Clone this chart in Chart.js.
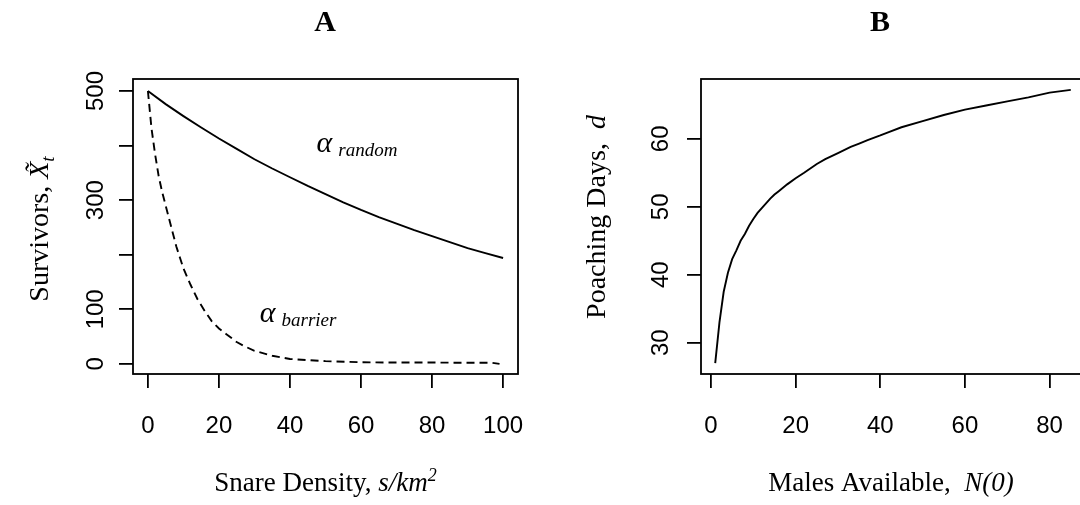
<!DOCTYPE html>
<html>
<head>
<meta charset="utf-8">
<script src="https://cdn.jsdelivr.net/npm/chart.js@4.4.1/dist/chart.umd.min.js"></script>
<style>
  html, body { margin: 0; padding: 0; background: #fff; overflow: hidden; width: 1080px; height: 505px; }
  .wrap { position: absolute; top: 0; }
</style>
</head>
<body>
<div class="wrap" style="left:0"><canvas id="chartA" width="540" height="505"></canvas></div>
<div class="wrap" style="left:540px"><canvas id="chartB" width="560" height="505"></canvas></div>
<script>
// Panel A - survivors vs snare density
const snareDensity = [0, 5, 10, 15, 20, 25, 30, 35, 40, 45, 50, 55, 60, 65, 70, 75, 80, 85, 90, 95, 100];
const survivorsRandom = [500, 476, 454, 433, 413, 394, 375, 358, 342, 326, 311, 296, 282, 269, 257, 245, 234, 223, 212, 203, 194];
const barrierDensity = [0, 1, 2, 3, 4, 5, 6, 7, 8, 9, 10, 12, 14, 16, 18, 20, 22, 25, 27, 30, 35, 40, 45, 50, 60, 70, 80, 90, 97, 99];
const survivorsBarrier = [500, 432, 385, 345, 315, 290, 265, 240, 215, 195, 175, 145, 118, 97, 78, 65, 55, 40, 33, 24, 15, 9, 7, 5, 3, 2.5, 2.5, 2, 2, 0];
const xTicksA = [0, 20, 40, 60, 80, 100];
const yTicksA = [0, 100, 200, 300, 400, 500];
const yLabelsA = { 0: '0', 100: '100', 200: '', 300: '300', 400: '', 500: '500' };

// Panel B - poaching days vs males available
const malesAvailable = [1, 2, 3, 4, 5, 6, 7, 8, 9, 10, 11, 12, 14, 15, 16, 18, 20, 22, 25, 27, 30, 33, 35, 37, 40, 42, 45, 50, 55, 60, 65, 70, 75, 80, 85];
const poachingDays = [27, 33, 37.5, 40.3, 42.3, 43.6, 45, 46, 47.2, 48.2, 49.1, 49.8, 51.2, 51.8, 52.3, 53.3, 54.2, 55, 56.3, 57, 57.9, 58.8, 59.3, 59.8, 60.5, 61, 61.7, 62.6, 63.5, 64.3, 64.9, 65.5, 66.1, 66.8, 67.2];
const xTicksB = [0, 20, 40, 60, 80];
const yTicksB = [30, 40, 50, 60];

const SANS = '"Liberation Sans", Arial, Helvetica, sans-serif';
const SERIF = '"Liberation Serif", "Times New Roman", serif';

const pts = (xs, ys) => xs.map((x, i) => ({ x: x, y: ys[i] }));

// draw a row of text pieces with different fonts
function drawRuns(ctx, runs, x, y) {
  let total = 0;
  runs.forEach(r => { ctx.font = r.font; r.w = ctx.measureText(r.text).width; total += r.w + (r.gap || 0); });
  let cx = x - total / 2;
  runs.forEach(r => {
    ctx.font = r.font;
    ctx.fillText(r.text, cx, y + (r.dy || 0));
    cx += r.w + (r.gap || 0);
  });
}

const decorPlugin = {
  id: 'decor',
  afterDraw(chart, args, opts) {
    const ctx = chart.ctx;
    const a = chart.chartArea;
    ctx.save();
    ctx.strokeStyle = '#000';
    ctx.lineWidth = 1.8;
    ctx.strokeRect(a.left, a.top, a.right - a.left, a.bottom - a.top);
    ctx.fillStyle = '#000';
    ctx.textBaseline = 'alphabetic';
    ctx.textAlign = 'left';

    // panel letter
    drawRuns(ctx, [{ text: opts.letter, font: 'bold 30px ' + SERIF }], opts.letterX, 31);

    // x axis title
    drawRuns(ctx, opts.xTitle, opts.xTitleX, 491);

    // y axis title, rotated
    ctx.save();
    ctx.translate(opts.yTitleX, opts.yTitleY);
    ctx.rotate(-Math.PI / 2);
    drawRuns(ctx, opts.yTitle, 0, 0);
    ctx.restore();

    // curve labels in data units
    (opts.notes || []).forEach(n => {
      const px = chart.scales.x.getPixelForValue(n.x);
      const py = chart.scales.y.getPixelForValue(n.y);
      ctx.font = 'italic 30px ' + SERIF;
      ctx.fillText('\u03b1', px, py);
      const w = ctx.measureText('\u03b1').width;
      ctx.font = 'italic 19px ' + SERIF;
      ctx.fillText(n.sub, px + w + 6, py + 4);
    });
    ctx.restore();
  }
};

function axisOpts(ticks, labels, min, max, fit, pad, vertical) {
  const o = {
    type: 'linear',
    min: min,
    max: max,
    afterBuildTicks: s => { s.ticks = ticks.map(v => ({ value: v })); },
    grid: { drawOnChartArea: false, drawTicks: true, tickLength: 14, color: '#000', lineWidth: 1.8 },
    border: { display: false },
    ticks: {
      font: { family: SANS, size: 24 },
      color: '#000',
      padding: pad,
      autoSkip: false,
      callback: v => (labels ? labels[v] : String(v))
    }
  };
  if (vertical) {
    o.afterFit = s => { s.width = fit; s.paddingTop = 0; s.paddingBottom = 0; };
    o.ticks.minRotation = 90;
    o.ticks.maxRotation = 90;
    o.ticks.crossAlign = 'center';
  } else {
    o.afterFit = s => { s.height = fit; s.paddingLeft = 0; s.paddingRight = 0; };
    o.ticks.maxRotation = 0;
    o.ticks.minRotation = 0;
  }
  return o;
}

const lineStyle = { borderColor: '#000', borderWidth: 1.9, pointRadius: 0, tension: 0, fill: false };

new Chart(document.getElementById('chartA'), {
  type: 'line',
  data: {
    datasets: [
      Object.assign({ label: 'random', data: pts(snareDensity, survivorsRandom) }, lineStyle),
      Object.assign({ label: 'barrier', data: pts(barrierDensity, survivorsBarrier), borderDash: [8, 5] }, lineStyle)
    ]
  },
  options: {
    responsive: false,
    animation: false,
    layout: { padding: { top: 79, right: 22, left: 0, bottom: 0 } },
    plugins: {
      legend: { display: false },
      tooltip: { enabled: false },
      decor: {
        letter: 'A', letterX: 325,
        xTitleX: 325.5,
        xTitle: [
          { text: 'Snare Density, ', font: '27px ' + SERIF },
          { text: 's/km', font: 'italic 27px ' + SERIF },
          { text: '2', font: 'italic 18px ' + SERIF, dy: -10 }
        ],
        yTitleX: 48, yTitleY: 229,
        yTitle: [
          { text: 'Survivors, ', font: '28px ' + SERIF },
          { text: 'X\u0303', font: 'italic 28px ' + SERIF },
          { text: 't', font: 'italic 19px ' + SERIF, dy: 6 }
        ],
        notes: [
          { x: 47.5, y: 389, sub: 'random' },
          { x: 31.5, y: 77, sub: 'barrier' }
        ]
      }
    },
    scales: {
      x: axisOpts(xTicksA, null, -4.2, 104.2, 131, 24, false),
      y: axisOpts(yTicksA, yLabelsA, -18.5, 522, 133, 3, true)
    }
  },
  plugins: [decorPlugin]
});

new Chart(document.getElementById('chartB'), {
  type: 'line',
  data: {
    datasets: [
      Object.assign({ label: 'days', data: pts(malesAvailable, poachingDays) }, lineStyle)
    ]
  },
  options: {
    responsive: false,
    animation: false,
    layout: { padding: { top: 79, right: 15, left: 0, bottom: 0 } },
    plugins: {
      legend: { display: false },
      tooltip: { enabled: false },
      decor: {
        letter: 'B', letterX: 340,
        xTitleX: 351,
        xTitle: [
          { text: 'Males Available,  ', font: '27px ' + SERIF },
          { text: 'N(0)', font: 'italic 27px ' + SERIF }
        ],
        yTitleX: 65, yTitleY: 217,
        yTitle: [
          { text: 'Poaching Days,  ', font: '28px ' + SERIF },
          { text: 'd', font: 'italic 28px ' + SERIF }
        ]
      }
    },
    scales: {
      x: axisOpts(xTicksB, null, -2.36, 88.36, 131, 24, false),
      y: axisOpts(yTicksB, null, 25.4, 68.8, 161, 12, true)
    }
  },
  plugins: [decorPlugin]
});
</script>
</body>
</html>
